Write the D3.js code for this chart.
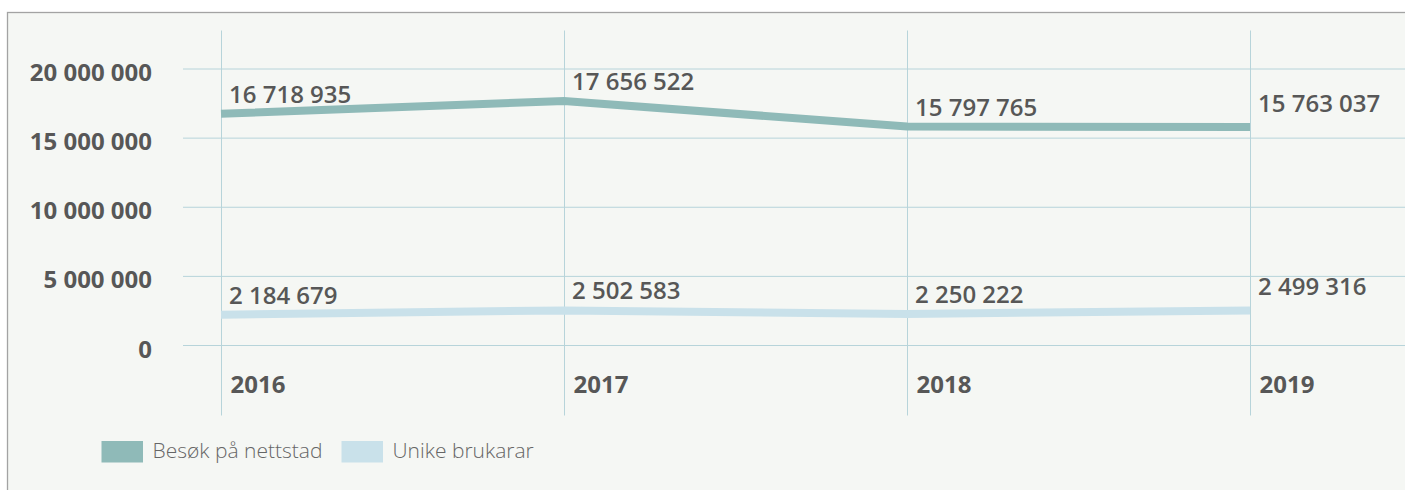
<!DOCTYPE html>
<html>
<head>
<meta charset="utf-8">
<script src="https://cdn.jsdelivr.net/npm/d3@7"></script>
<style>
  html, body { margin: 0; padding: 0; background: #ffffff; overflow: hidden; }
  svg { display: block; overflow: hidden; }
  text { font-family: "Open Sans", "Noto Sans", sans-serif; }
</style>
</head>
<body>
<svg id="chart" width="1405" height="490"></svg>
<script>
// ---- data ----
const years = ["2016", "2017", "2018", "2019"];
const visits = [16718935, 17656522, 15797765, 15763037];
const users = [2184679, 2502583, 2250222, 2499316];
const yTicks = [0, 5000000, 10000000, 15000000, 20000000];
const seriesNames = ["Besøk på nettstad", "Unike brukarar"];

// ---- setup ----
const W = 1405, H = 490;
const svg = d3.select("#chart");
const colors = ["#8fbab8", "#c9e1ea"];
const gridColor = "#b7d4da";
const textColor = "#575757";

const nb = d3.formatLocale({ decimal: ",", thousands: " ", grouping: [3], currency: ["", " kr"] });
const fmt = nb.format(",d");

// panel
svg.append("rect")
  .attr("x", 7.5).attr("y", 12.5)
  .attr("width", W + 50).attr("height", H + 50)
  .attr("fill", "#f5f7f4")
  .attr("stroke", "#a3a3a3")
  .attr("stroke-width", 1.3);

const x = d3.scalePoint().domain(years).range([221, 1250]);
const y = d3.scaleLinear().domain([0, 20000000]).range([345, 68.5]);

// horizontal gridlines + y labels via axis
const yAxis = d3.axisLeft(y).tickValues(yTicks).tickSize(-(W - 183)).tickFormat(fmt);
const gy = svg.append("g").attr("transform", "translate(183,0)").call(yAxis);
gy.select(".domain").remove();
gy.selectAll(".tick line").attr("stroke", gridColor).attr("stroke-width", 1);
gy.selectAll(".tick text")
  .attr("x", -31)
  .attr("dy", "12")
  .attr("fill", textColor)
  .attr("font-size", 24)
  .attr("font-weight", 700)
  .style("font-family", "'Open Sans', sans-serif");

// vertical gridlines + year labels via axis
const xAxis = d3.axisBottom(x).tickSize(385).tickFormat(d => d);
const gx = svg.append("g").attr("transform", "translate(0,30.5)").call(xAxis);
gx.select(".domain").remove();
gx.selectAll(".tick line").attr("stroke", gridColor).attr("stroke-width", 1);
gx.selectAll(".tick text")
  .attr("y", 0)
  .attr("dy", 0)
  .attr("transform", "translate(9,362)")
  .attr("text-anchor", "start")
  .attr("fill", textColor)
  .attr("font-size", 24)
  .attr("font-weight", 700)
  .style("font-family", "'Open Sans', sans-serif");

// lines
const line = d3.line().x((d, i) => x(years[i])).y(d => y(d));
[visits, users].forEach((vals, k) => {
  svg.append("path")
    .datum(vals)
    .attr("d", line)
    .attr("fill", "none")
    .attr("stroke", colors[k])
    .attr("stroke-width", 8)
    .attr("stroke-linejoin", "miter")
    .attr("stroke-linecap", "butt");

  svg.append("g").selectAll("text")
    .data(vals)
    .join("text")
    .attr("x", (d, i) => x(years[i]) + 8)
    .attr("y", (d, i) => y(d) - (i === years.length - 1 ? 15 : 11))
    .attr("fill", textColor)
    .attr("font-size", 24)
    .attr("font-weight", 600)
    .text(d => fmt(d));
});

// legend
const legend = svg.append("g");
const legX = [101.5, 341.5];
seriesNames.forEach((name, k) => {
  legend.append("rect")
    .attr("x", legX[k]).attr("y", 441)
    .attr("width", 41.5).attr("height", 21.5)
    .attr("fill", colors[k]);
  legend.append("text")
    .attr("x", legX[k] + 51)
    .attr("y", 457.5)
    .attr("fill", "#666666")
    .attr("font-size", 21)
    .attr("font-weight", 300)
    .text(name);
});
</script>
</body>
</html>
